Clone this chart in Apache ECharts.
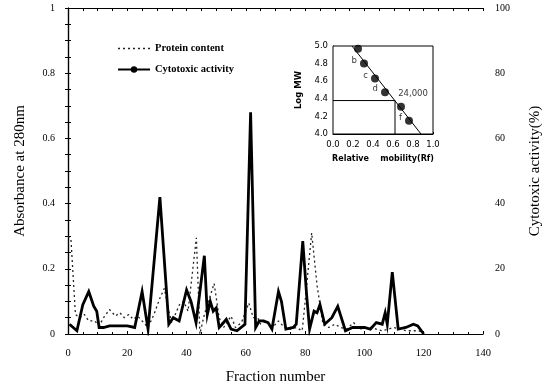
<!DOCTYPE html>
<html><head><meta charset="utf-8">
<script src="https://cdn.jsdelivr.net/npm/echarts@6/dist/echarts.min.js"></script>
<style>html,body{margin:0;padding:0;background:#fff}#c{width:544px;height:387px}</style>
</head><body><div id="c"></div>
<script>
// Main chart data
const cytoFrac = [0.5,3,5,7,8.7,9.7,10.5,12,14,17,20,22.5,25,27,31,34,35.5,37.5,40,41.5,43.2,46,47,48,49,50,51,52,53.4,55,57,59.7,61.6,63.3,64.5,66,67.5,68.8,71,72,73.5,76,77,79.2,80.5,81.5,83,84,85,86.6,89,91,93.6,96,100,102,104,106,107,107.7,109.4,111.4,114,116.5,118,120];
const cytoVals = [3,1,9,13,8.5,7,2,2,2.5,2.5,2.5,2,13,1.5,42,3,5,4,13.5,10,3.5,24,6,10,7,8,2,3,4.5,1.5,1,3,68,2,4,4,3.5,1.5,13,10,1.5,2,3,28.5,12,1.5,7,6.5,9,3,5,8.5,1,2,2,1.5,3.5,3,6.5,3,19,1.5,2,3,2.5,0];
const protFrac = [0,1,2.5,4,5.5,7,9,10.5,12,14,16,17.5,19,20.5,22,23.5,25,27,29,31,32.5,34,35,37.6,39,40.5,43.3,44.5,46,49.3,51,52.5,55,56.5,58.5,61,62.5,64,65,67,69,71,73,75,77,79,80,82.2,84,86,88,90,92,94,96.4,98,102,106,110,114,118,120];
const protVals = [0.3,0.29,0.06,0.05,0.06,0.04,0.04,0.025,0.05,0.075,0.055,0.065,0.05,0.06,0.045,0.055,0.04,0.02,0.06,0.11,0.14,0.07,0.035,0.09,0.1,0.07,0.295,0.0,0.06,0.155,0.05,0.02,0.055,0.02,0.035,0.095,0.05,0.05,0.03,0.04,0.02,0.04,0.02,0.015,0.02,0.01,0.1,0.31,0.15,0.03,0.02,0.03,0.02,0.015,0.035,0.015,0.02,0.01,0.02,0.01,0.01,0.005];
const xTicks = [0,20,40,60,80,100,120,140];
const leftTicks = [0,0.2,0.4,0.6,0.8,1];
const rightTicks = [0,20,40,60,80,100];
// Inset data
const rfVals = [0.25,0.31,0.42,0.52,0.68,0.76];
const logMW = [4.97,4.80,4.63,4.475,4.31,4.15];
const markerNames = ['', 'b', 'c', 'd', '24,000', 'f'];
const fitRf = [0.19,0.88];
const fitLog = [5.0,4.0];
const refRf = [0,0.62,0.62];
const refLog = [4.38,4.38,4.0];

const serif = 'Liberation Serif';
const chart = echarts.init(document.getElementById('c'), null, {renderer:'canvas'});
const labelPos = ['left','left','left','left','top','left'];
const inset = rfVals.map((r,i)=>({value:[r,logMW[i]], label:{show: !!markerNames[i], formatter: markerNames[i], position: labelPos[i], distance: i===4 ? 4 : 3, offset: i===4 ? [12,0] : [0,-3]}}));

chart.setOption({
  animation:false,
  backgroundColor:'#fff',
  legend:{
    left:112, top:38, orient:'vertical', itemWidth:32, itemHeight:8, itemGap:10,
    textStyle:{fontFamily:serif, fontWeight:'bold', fontSize:10.5, color:'#000'},
    data:[
      {name:'Protein content', itemStyle:{opacity:0}, lineStyle:{type:[2,3], width:1.3, color:'#222'}},
      {name:'Cytotoxic activity'}
    ]
  },
  grid:[
    {left:68, right:61, top:8, bottom:53, show:false, outerBoundsMode:'none', containLabel:false},
    {left:333, right:111, top:46, bottom:253, show:true, backgroundColor:'#fff', borderColor:'#000', borderWidth:1, z:5, outerBoundsMode:'none', containLabel:false}
  ],
  xAxis:[
    {gridIndex:0, type:'value', min:0, max:140, interval:20, position:'bottom',
     name:'Fraction number', nameLocation:'middle', nameGap:36,
     nameTextStyle:{fontFamily:serif, fontSize:15, color:'#000'},
     axisLine:{lineStyle:{color:'#000', width:1.2}},
     axisTick:{inside:true, length:3, lineStyle:{color:'#000'}},
     minorTick:{show:true, splitNumber:4, length:2},
     axisLabel:{fontFamily:serif, fontSize:10.5, color:'#000', margin:14},
     splitLine:{show:false}},
    {gridIndex:0, type:'value', min:0, max:140, interval:20, position:'top',
     axisLine:{show:true, onZero:false, lineStyle:{color:'#000', width:1.2}},
     axisTick:{inside:true, length:3, lineStyle:{color:'#000'}},
     minorTick:{show:true, splitNumber:4, length:3},
     axisLabel:{show:false}, splitLine:{show:false}},
    {gridIndex:1, type:'value', min:0, max:1, interval:0.2,
     name:'Relative    mobility(Rf)', nameLocation:'middle', nameGap:21,
     nameTextStyle:{fontFamily:'DejaVu Sans', fontSize:8, color:'#000', fontWeight:'bold'},
     axisLine:{onZero:false, lineStyle:{color:'#000'}},
     axisTick:{inside:true, length:2, lineStyle:{color:'#000'}},
     axisLabel:{fontFamily:'DejaVu Sans', fontSize:8.5, color:'#000', margin:6, formatter:v=>v.toFixed(1)},
     splitLine:{show:false}}
  ],
  yAxis:[
    {gridIndex:0, type:'value', min:0, max:1, interval:0.2, position:'left',
     name:'Absorbance at 280nm', nameLocation:'middle', nameGap:40,
     nameTextStyle:{fontFamily:serif, fontSize:15, color:'#000'},
     axisLine:{show:true, lineStyle:{color:'#000', width:1.2}},
     axisTick:{inside:true, length:3, lineStyle:{color:'#000'}},
     minorTick:{show:true, splitNumber:4, length:3},
     axisLabel:{fontFamily:serif, fontSize:10, color:'#000', margin:13,
       formatter:v=> (v===0||v===1) ? String(v) : v.toFixed(1)},
     splitLine:{show:false}},
    {gridIndex:0, type:'value', min:0, max:100, interval:20, position:'right',
     name:'Cytotoxic activity(%)', nameLocation:'middle', nameGap:45,
     nameTextStyle:{fontFamily:serif, fontSize:15, color:'#000'},
     axisLine:{show:true, lineStyle:{color:'#000', width:1.2}},
     axisTick:{inside:true, length:3, lineStyle:{color:'#000'}},
     minorTick:{show:true, splitNumber:4, length:3},
     axisLabel:{fontFamily:serif, fontSize:10, color:'#000', margin:12},
     splitLine:{show:false}},
    {gridIndex:1, type:'value', min:4, max:5, interval:0.2,
     name:'Log MW', nameLocation:'middle', nameGap:30,
     nameTextStyle:{fontFamily:'DejaVu Sans', fontSize:8.5, color:'#000', fontWeight:'bold'},
     axisLine:{onZero:false, lineStyle:{color:'#000'}},
     axisTick:{inside:true, length:2, lineStyle:{color:'#000'}},
     axisLabel:{fontFamily:'DejaVu Sans', fontSize:8.5, color:'#000', margin:5, formatter:v=>v.toFixed(1)},
     splitLine:{show:false}}
  ],
  series:[
    {name:'Protein content', type:'line', xAxisIndex:0, yAxisIndex:0, symbol:'none', z:3,
     data:protFrac.map((f,i)=>[f,protVals[i]]),
     lineStyle:{color:'#222', width:1.3, type:[2,3]}, itemStyle:{color:'#222'}},
    {name:'Cytotoxic activity', type:'line', xAxisIndex:0, yAxisIndex:1, symbol:'none', z:4,
     data:cytoFrac.map((f,i)=>[f,cytoVals[i]]),
     lineStyle:{color:'#000', width:2.8, join:'miter'}, itemStyle:{color:'#000'}},
    {type:'line', xAxisIndex:2, yAxisIndex:2, symbol:'none', z:6,
     data:fitRf.map((r,i)=>[r,fitLog[i]]), lineStyle:{color:'#000', width:1}},
    {type:'line', xAxisIndex:2, yAxisIndex:2, symbol:'none', z:6,
     data:refRf.map((r,i)=>[r,refLog[i]]), lineStyle:{color:'#000', width:1}},
    {type:'scatter', xAxisIndex:2, yAxisIndex:2, symbol:'circle', symbolSize:8, z:7,
     itemStyle:{color:'#000'},
     label:{color:'#000', fontFamily:'DejaVu Sans', fontSize:8.5},
     data:inset}
  ]
});
</script></body></html>
